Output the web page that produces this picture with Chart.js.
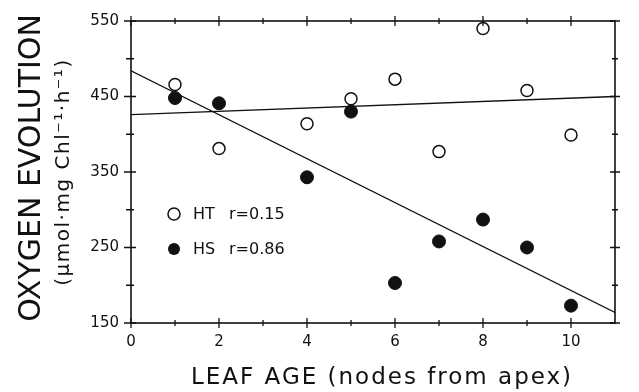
<!DOCTYPE html>
<html>
<head>
<meta charset="utf-8">
<script src="https://cdn.jsdelivr.net/npm/chart.js@4/dist/chart.umd.min.js"></script>
<style>
  html, body { margin: 0; padding: 0; background: #fff; }
  #wrap { width: 639px; height: 392px; position: relative; }
</style>
</head>
<body>
<div id="wrap"><canvas id="chart" width="639" height="392"></canvas></div>
<script>
// leaf age (nodes from apex)
const leafAge = [1, 2, 4, 5, 6, 7, 8, 9, 10];
// oxygen evolution, HT plants (open circles)
const htValues = [466, 381, 414, 447, 473, 377, 540, 458, 399];
// oxygen evolution, HS plants (filled circles)
const hsValues = [448, 441, 343, 430, 203, 258, 287, 250, 173];

// regression lines, end points
const fitX = [0, 11];
const htFit = [426, 450];
const hsFit = [484, 164];

const xTicks = [0, 2, 4, 6, 8, 10];
const xMinorTicks = [1, 3, 5, 7, 9];
const yTicks = [150, 250, 350, 450, 550];
const yMinorTicks = [200, 300, 400, 500];

const legendRows = [
    { label: 'HT', r: 'r=0.15', filled: false },
    { label: 'HS', r: 'r=0.86', filled: true }
];

const FONT = '"DejaVu Sans", "Liberation Sans", sans-serif';
const INK = '#111';

function toPoints(xs, ys) {
    return xs.map((x, i) => ({ x: x, y: ys[i] }));
}

// frame, tick marks, legend and axis titles
const framePlugin = {
    id: 'frame',
    afterDatasetsDraw(chart) {
        const ctx = chart.ctx;
        const a = chart.chartArea;
        const xs = chart.scales.x;
        const ys = chart.scales.y;
        ctx.save();
        ctx.strokeStyle = INK;
        ctx.lineWidth = 1.6;
        ctx.strokeRect(a.left, a.top, a.right - a.left, a.bottom - a.top);

        ctx.lineWidth = 1.3;
        function tickX(v, len) {
            const px = xs.getPixelForValue(v);
            ctx.beginPath();
            ctx.moveTo(px, a.bottom - len); ctx.lineTo(px, a.bottom + len);
            ctx.moveTo(px, a.top - len); ctx.lineTo(px, a.top + len);
            ctx.stroke();
        }
        function tickY(v, len) {
            const py = ys.getPixelForValue(v);
            ctx.beginPath();
            ctx.moveTo(a.left - len - 2, py); ctx.lineTo(a.left + len, py);
            ctx.moveTo(a.right - len, py); ctx.lineTo(a.right + len, py);
            ctx.stroke();
        }
        xTicks.forEach(v => tickX(v, 5));
        xMinorTicks.forEach(v => tickX(v, 3));
        yTicks.forEach(v => tickY(v, 5));
        yMinorTicks.forEach(v => tickY(v, 3));

        // legend inside the plot
        ctx.font = '16px ' + FONT;
        ctx.fillStyle = INK;
        ctx.textBaseline = 'middle';
        legendRows.forEach((row, i) => {
            const cx = a.left + 43;
            const cy = a.top + 193 + i * 35;
            ctx.beginPath();
            ctx.arc(cx, cy, 6, 0, Math.PI * 2);
            if (row.filled) {
                ctx.fillStyle = INK; ctx.fill();
            } else {
                ctx.fillStyle = '#fff'; ctx.fill();
                ctx.lineWidth = 1.5; ctx.stroke();
            }
            ctx.fillStyle = INK;
            ctx.textAlign = 'left';
            ctx.fillText(row.label, cx + 19, cy + 1);
            ctx.fillText(row.r, cx + 55, cy + 1);
        });

        // axis titles
        ctx.textAlign = 'center';
        ctx.font = '23px ' + FONT;
        ctx.letterSpacing = '2px';
        ctx.fillText('LEAF AGE (nodes from apex)', 382, 378);

        ctx.translate(32, 168);
        ctx.rotate(-Math.PI / 2);
        ctx.font = '30px ' + FONT;
        ctx.letterSpacing = '0px';
        ctx.fillText('OXYGEN EVOLUTION', 0, 0);
        ctx.font = '20px ' + FONT;
        ctx.letterSpacing = '1.5px';
        ctx.fillText('(\u03bcmol\u00b7mg Chl\u207b\u00b9\u00b7h\u207b\u00b9)', -4, 32);
        ctx.restore();
    }
};

const chart = new Chart(document.getElementById('chart'), {
    type: 'scatter',
    data: {
        datasets: [
            {
                label: 'HS',
                data: toPoints(leafAge, hsValues),
                pointStyle: 'circle',
                pointRadius: 6.5,
                pointBackgroundColor: INK,
                pointBorderColor: INK,
                pointBorderWidth: 1,
                showLine: false,
                order: 0
            },
            {
                label: 'HT',
                data: toPoints(leafAge, htValues),
                pointStyle: 'circle',
                pointRadius: 6,
                pointBackgroundColor: '#fff',
                pointBorderColor: INK,
                pointBorderWidth: 1.5,
                showLine: false,
                order: 1
            },
            {
                label: 'HT fit',
                data: toPoints(fitX, htFit),
                showLine: true,
                borderColor: INK,
                borderWidth: 1.3,
                pointRadius: 0,
                order: 2
            },
            {
                label: 'HS fit',
                data: toPoints(fitX, hsFit),
                showLine: true,
                borderColor: INK,
                borderWidth: 1.3,
                pointRadius: 0,
                order: 2
            }
        ]
    },
    options: {
        responsive: false,
        animation: false,
        layout: { padding: { left: 0, right: 24, top: 19, bottom: 0 } },
        plugins: {
            legend: { display: false },
            tooltip: { enabled: false }
        },
        scales: {
            x: {
                type: 'linear',
                min: 0,
                max: 11,
                grid: { display: false, drawTicks: false },
                border: { display: false },
                afterBuildTicks: s => { s.ticks = xTicks.map(v => ({ value: v })); },
                afterFit: s => { s.height = 69; },
                ticks: {
                    color: INK,
                    padding: 10,
                    maxRotation: 0,
                    font: { family: FONT, size: 15 }
                }
            },
            y: {
                type: 'linear',
                min: 150,
                max: 550,
                grid: { display: false, drawTicks: false },
                border: { display: false },
                afterBuildTicks: s => { s.ticks = yTicks.map(v => ({ value: v })); },
                afterFit: s => { s.width = 131; },
                ticks: {
                    color: INK,
                    padding: 12,
                    font: { family: FONT, size: 15 }
                }
            }
        }
    },
    plugins: [framePlugin]
});
</script>
</body>
</html>
